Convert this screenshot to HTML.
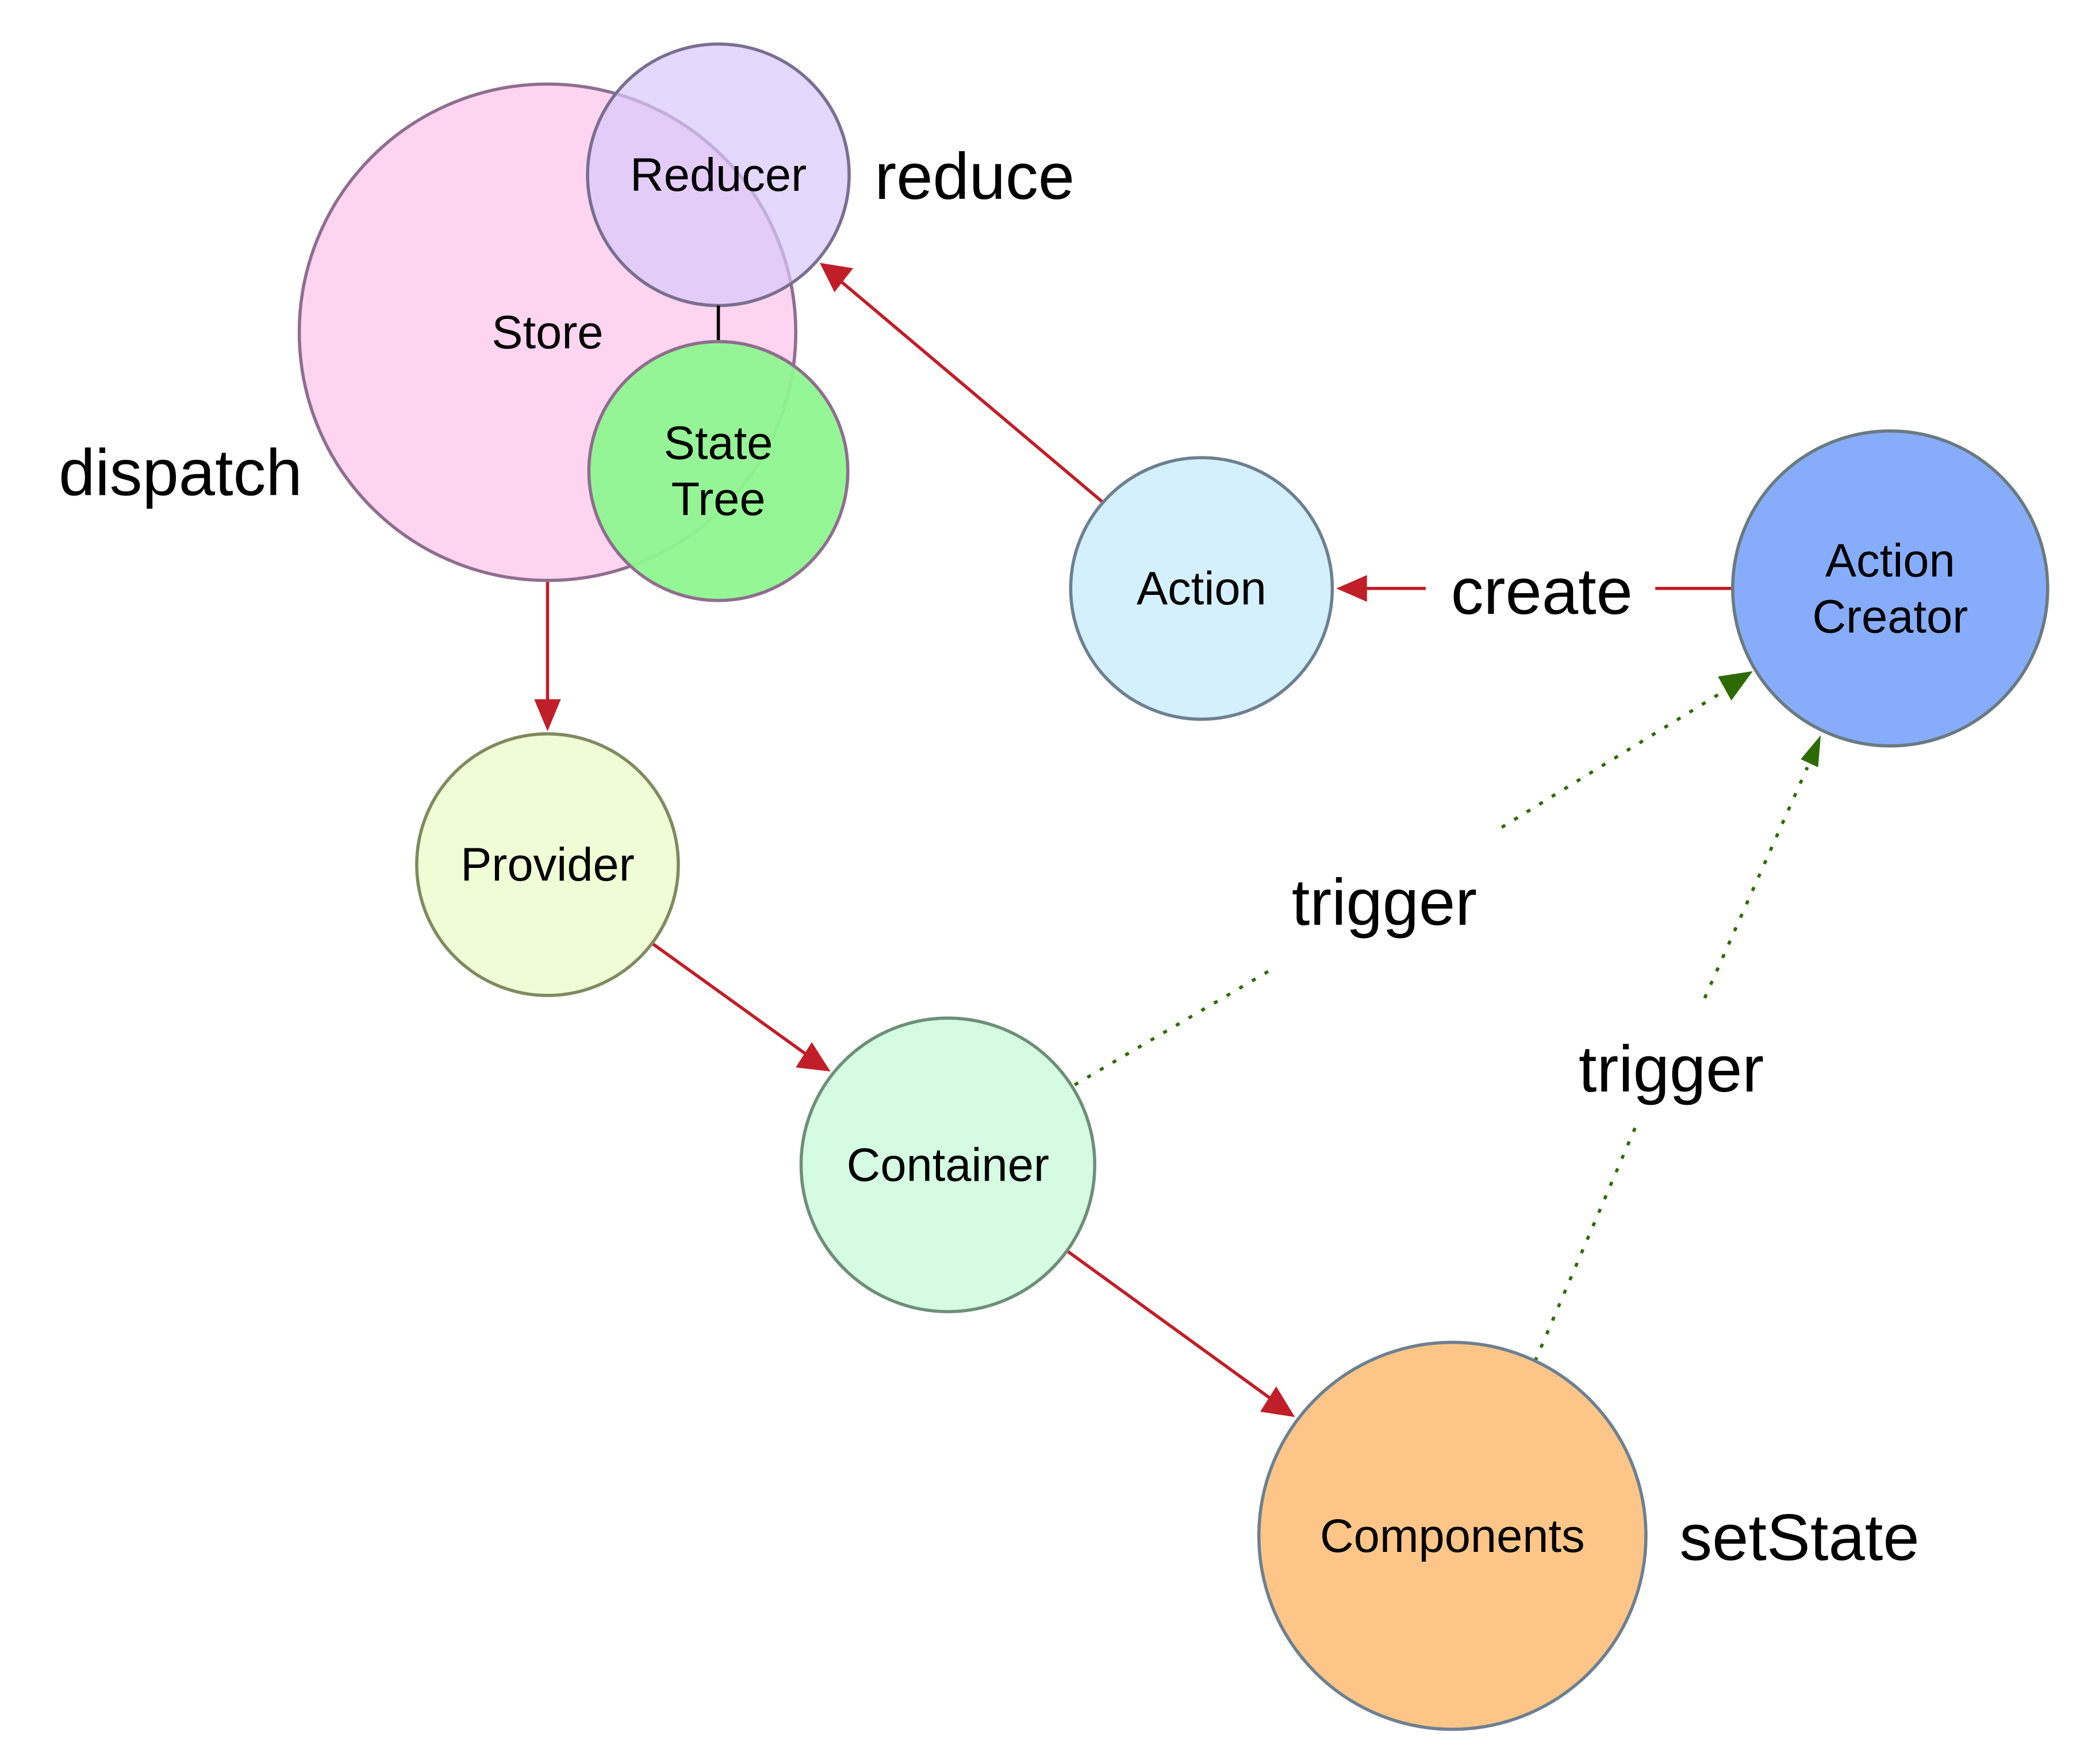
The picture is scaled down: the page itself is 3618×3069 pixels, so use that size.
<!DOCTYPE html>
<html><head><meta charset="utf-8"><style>html,body{margin:0;padding:0;background:#fff}svg{display:block}</style></head>
<body>
<svg width="3618" height="3069" viewBox="0 0 1558 1322" xmlns="http://www.w3.org/2000/svg" font-family="Liberation Sans, sans-serif">
<g stroke-width="2.4">
<g stroke="#c01e28" fill="none">
<line x1="410" y1="435" x2="410" y2="526"/>
<path d="M400,524 L410,548 L420,524 z" fill="#c01e28" stroke="none"/>
<line x1="487" y1="706" x2="605" y2="791"/>
<path d="M596,800 L622,803 L608,781 z" fill="#c01e28" stroke="none"/>
<line x1="800" y1="938" x2="953" y2="1049"/>
<path d="M944,1058 L970,1062 L956,1039 z" fill="#c01e28" stroke="none"/>
<line x1="828" y1="378" x2="630" y2="211"/>
<path d="M639,201 L614,197 L625,219 z" fill="#c01e28" stroke="none"/>
<line x1="1298" y1="441" x2="1240" y2="441"/>
<line x1="1068" y1="441" x2="1022" y2="441"/>
<path d="M1024,431 L1001,441 L1024,451 z" fill="#c01e28" stroke="none"/>
</g>
<g stroke="#2d6a00" fill="none" stroke-dasharray="3,8">
<line x1="805" y1="813" x2="950" y2="728"/>
<line x1="1125" y1="620" x2="1293" y2="517"/>
<line x1="1150" y1="1020" x2="1225" y2="845"/>
<line x1="1277" y1="748" x2="1354" y2="575"/>
</g>
<path d="M1287,507 L1313,503 L1297,525 z" fill="#2d6a00"/>
<path d="M1349,569 L1364,551 L1362,575 z" fill="#2d6a00"/>
<circle cx="410" cy="249" r="186" fill="#fdd5f0" stroke="#8e6e8e"/>
<circle cx="538" cy="131" r="98" fill="#d8c8fc" fill-opacity="0.7" stroke="#7a6f90"/>
<line x1="538" y1="229" x2="538" y2="256" stroke="#000"/>
<circle cx="538" cy="353" r="97" fill="#8ff58f" fill-opacity="0.95" stroke="#8e6e8e"/>
<circle cx="900" cy="441" r="98" fill="#d5f0fd" stroke="#6d8090"/>
<circle cx="1416" cy="441" r="118" fill="#87adfa" stroke="#6a7a80"/>
<circle cx="410" cy="648" r="98" fill="#f0fcd5" stroke="#808a60"/>
<circle cx="710" cy="873" r="110" fill="#d5fce3" stroke="#6e8e78"/>
<circle cx="1088" cy="1151" r="145" fill="#fdc688" stroke="#6d8090"/>
</g>
<g font-size="35" text-anchor="middle" fill="#000">
<text x="410" y="261">Store</text>
<text x="538" y="143">Reducer</text>
<text x="538" y="344">State</text>
<text x="538" y="386">Tree</text>
<text x="900" y="453">Action</text>
<text x="1416" y="432">Action</text>
<text x="1416" y="474">Creator</text>
<text x="410" y="660">Provider</text>
<text x="710" y="885">Container</text>
<text x="1088" y="1163">Components</text>
</g>
<g font-size="49" text-anchor="middle" fill="#000">
<text x="730" y="149">reduce</text>
<text x="135" y="371">dispatch</text>
<text x="1155" y="460">create</text>
<text x="1037" y="693">trigger</text>
<text x="1252" y="818">trigger</text>
<text x="1348" y="1169">setState</text>
</g>
</svg>
</body></html>
